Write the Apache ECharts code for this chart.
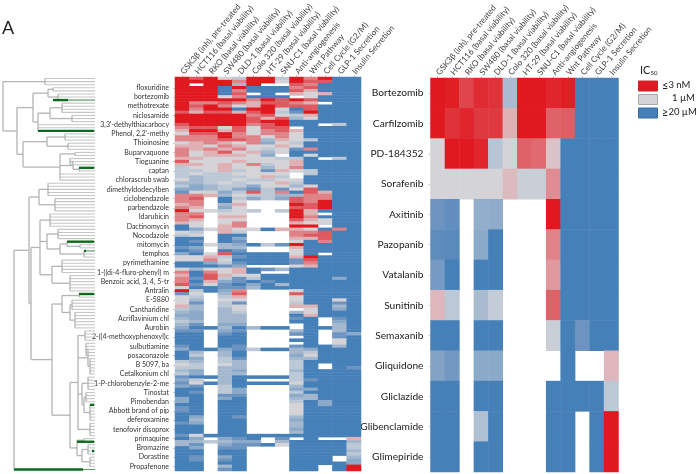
<!DOCTYPE html>
<html><head><meta charset="utf-8">
<script src="https://cdn.jsdelivr.net/npm/echarts@6/dist/echarts.min.js"></script>
<style>html,body{margin:0;padding:0;background:#fff}#c{width:698px;height:474px}</style>
</head><body><div id="c"></div>
<script>
const assayLabels = ['GSK3β (inh), pre-treated','HCT116 (basal viability)','RKO (basal viability)','SW480 (basal viability)','DLD-1 (basal viability)','Colo 320 (basal viability)','HT-29 (basal viability)','SNU-C1 (basal viability)','Anti-angiogenesis','Wnt Pathway','Cell Cycle (G2/M)','GLP-1 Secretion','Insulin Secretion'];
const drugLabels = ['floxuridine','bortezomib','methotrexate','niclosamide',"3,3'-dethylthiacarbocy","Phenol, 2,2'-methy",'Thioinosine','Buparvaquone','Tioguanine','captan','chlorascrub swab','dimethyldodecylben','ciclobendazole','parbendazole','Idarubicin','Dactinomycin','Nocodazole','mitomycin','temphos','pyrimethamine','1-((di-4-fluro-phenyl) m','Benzoic acid, 3, 4, 5-tr','Antralin','E-5880','Cantharidine','Acriflavinium chl','Aurobin','2-((4-methoxyphenoxyl)c','sulbutiamine','posaconazole','B 5097, ba','Cetalkonium chl','1-P-chlorobenzyle-2-me','Tinostat','Pimobendan','Abbott brand of pip','deferoxamine','tenofovir disoprox','primaquine','Bromazine','Dorastine','Propafenone'];
const screenRows = [
'9895499497900','9999799598800','9.9939..87000','9990900078000','9990700086000','99908.0.65600','99957000.5000','9999979898000',
'9778768876.00','9897569888000','9799099508000','8688689419000','9999978546000','9999986835000','9999989900000','8999978900.40',
'78858588.0000','6996857860000','5889757750000','7779775750000','7778873654000','5676572540000','6657655650000','7676754517000',
'7568563500000','7566652.05000','6655555440.40','8555655560000','6656574560000','4556553570000','4456451654000','45445555.4000',
'43444564.0000','5344544550000','3345455640000','4234425535000','2234214158000','1552484708600','7763544337700','78.0424287700',
'77.05...87900','67.36...98900','76.25...88900','955454.496000','77.55...96.00','78.66...97000','76.55...86500','65.57...65500',
'05.67...99.00','0256550665070','54.64...77800','45.00...78800','00.02...66800','01.01...50700','0053204190000','12.33...60000',
'01.01...50000','2058000050.00','5564100069000','5575000018000','0024100017000','00012...56000','5355601300000','707560..00000',
'6086550000000','7184140000020','7062101000000','8151020300000','5001130000000','94027...50000','15.38...80000','54.46...50000',
'53.55...50050','51.41...40010','63.45...66030','43.35....5020','32.34...35000','22.33...06000','32.33...10.10','43.33...00.20',
'31.22....0.30','20030300.0030','11.21...30.30','00.10...10.12','00.00....0.10','00.00...00.50','00.00....0.50','10.01...10030',
'2002140032000','03.30...34000','04.30...25000','02.41...33000','43.43...40000','54.53...40.00','44.33...40.01','32.32...30000',
'42.33...40000','1003000040000','24.30...41000','1503000050000','21.40...30000','00.42...22000','01.42...40000','00.11...23000',
'20.20...33000','20.00...40200','00.00...50200','10.00...50000','10.00...50000','00.00...50000','02.01...30000','03.00...20000',
'12.00...30000','00.00...30000','00.00...20000','00.00...30000','1500000000000','02.210.1.0..6','334322.300003','31.2110500004',
'02.11...00004','00.00...00003','00.00...00004','01.20...000.3','01.10...000.2','00.00...00002','00.30...00.09','00.10...00.09'];
const cancerDrugs = ['Bortezomib','Carfilzomib','PD-184352','Sorafenib','Axitinib','Pazopanib','Vatalanib','Sunitinib','Semaxanib','Gliquidone','Gliclazide','Glibenclamide','Glimepiride'];
const N = null;
const cancerRows = [
[9,8.9,8.3,8.7,8.6,3.2,9,9,8.8,8.9,0,0,0],
[9,8.6,8.8,8.5,8.5,6,9,9,7.8,7.9,0,0,0],
[5,9,9,8.8,3.8,5,7.8,7.6,5.5,0,0,0,0],
[5,5,5,5,5,5.7,4.5,4.5,6.8,0,0,0,0],
[1,.7,N,2.3,2.2,N,N,N,9,0,0,0,0],
[.6,.5,N,2,0,N,N,N,7,0,0,0,0],
[1.3,0,N,0,0,N,N,N,6.5,0,0,0,0],
[5.8,4,N,3.2,4.3,N,N,N,7.8,0,0,0,0],
[0,0,N,0,0,N,N,N,4.5,0,1,0,0],
[1.7,1.2,N,2,2,N,N,N,N,0,N,N,5.8],
[0,0,N,0,0,N,N,N,0,0,0,0,4],
[0,0,N,3.5,0,N,N,N,0,0,N,0,9],
[0,0,N,0,0,N,N,N,0,0,N,0,9]];
const palette = ['#4680b8','#6d94c0','#8ba9c9','#a3b8cf','#bdc8d6','#d4d4d8','#dfb0b4','#e08389','#de5a60','#e0181f'];
// dendrogram: [mergeDistance, ...children], a number child = that many leaves
const topClade = [3,[45,3],[17,
  [33,[48,[53,2],[58,3]],[38,[50,[62,4],[72,3]],3]],
  [23,[47,[65,3],[68,3]],[60,[75,2],[73,[70,3],[79,2]],3]]]];
const lowerClade = [14,[29,[39,[48,5],[55,5]],[31,
  [40,[50,5],[47,[58,4],[60,[67,1,[80,2]],[84,3]]],[52,[62,5],[70,6]]],
  [52,[62,[79,2],[70,[72,4],[75,6]]],[70,
    [78,[85,4],[88,[86,5],[90,6]],[82,[88,5],[84,[86,4],[90,6]]],[90,5]],
    [77,[84,2],[82,[88,4],[90,4]]]]]]],1];
// green highlighted leaves: [row, from, to]
const greenLeaves = [[7,53,68],[17,38,94],[29,79,94],[53,67,94],[56,84,86],[70,79,94],[106,90,94],[118,77,94],[121,92,94],[127,14,83]];
const leafEnd = 95, rowCount = screenRows.length;

const segs = [];
let cursor = 0;
function walk(n){
  const ys = [], h = n[0];
  n.slice(1).forEach(c => {
    if (typeof c === 'number') {
      for (let i=0;i<c;i++){ const y = cursor+.5; cursor++; ys.push(y); segs.push([h,y,leafEnd,y,0]); }
    } else {
      const y = walk(c); ys.push(y); segs.push([h,y,c[0],y,1]);
    }
  });
  const a = Math.min(...ys), b = Math.max(...ys);
  segs.push([h,a,h,b,1]);
  return (a+b)/2;
}
walk(topClade); walk(lowerClade);
greenLeaves.forEach(g => {
  segs.push([g[1],g[0]+.5,g[2],g[0]+.5,2]);
  if (g[2] < leafEnd) segs.push([g[2],g[0]+.5,leafEnd,g[0]+.5,3]);
});

const screenData = [];
screenRows.forEach((s,r)=>{ for(let c=0;c<13;c++){ const ch=s[c]; if(ch!=='.'&&ch!==undefined) screenData.push([c,r,+ch]); }});
const cancerData = [];
cancerRows.forEach((row,r)=>row.forEach((v,c)=>{ if(v!==N) cancerData.push([c,r,v]); }));
const rowCats = screenRows.map((_,i)=> (i>=3 && (i-3)%3===0) ? (drugLabels[(i-3)/3]||'') : '');

const F = 'Lato';
const xAxisBase = gi => ({type:'category',gridIndex:gi,position:'top',data:assayLabels,axisLine:{show:false},
  axisTick:{show:true,alignWithLabel:true,length:2,lineStyle:{color:'#ccc'}},
  axisLabel:{rotate:-50,interval:0,fontFamily:F,fontSize:8.3,color:'#444',margin:4},splitLine:{show:false}});
const chart = echarts.init(document.getElementById('c'),null,{renderer:'canvas'});
chart.setOption({
  animation:false,backgroundColor:'#fff',
  grid:[{left:0,width:95,top:77,height:394},{left:175,width:186,top:77,height:394},{left:430.5,width:188,top:78,height:394}],
  xAxis:[{type:'value',gridIndex:0,min:0,max:95,show:false},xAxisBase(1),xAxisBase(2)],
  yAxis:[{type:'value',gridIndex:0,min:0,max:rowCount,inverse:true,show:false},
    {type:'category',gridIndex:1,inverse:true,data:rowCats,axisLine:{show:false},
     axisTick:{show:true,length:2,alignWithLabel:true,lineStyle:{color:'#ccc'},interval:(i,v)=>v!==''},
     axisLabel:{interval:0,fontFamily:F,fontSize:7,color:'#333',margin:6}},
    {type:'category',gridIndex:2,inverse:true,data:cancerDrugs,axisLine:{show:false},
     axisTick:{show:true,length:2,alignWithLabel:true,lineStyle:{color:'#ccc'}},
     axisLabel:{interval:0,fontFamily:F,fontSize:10.2,color:'#222',margin:7}}],
  visualMap:{show:false,type:'continuous',seriesIndex:[1,2],min:0,max:9,inRange:{color:palette}},
  series:[
    {type:'custom',xAxisIndex:0,yAxisIndex:0,data:segs,clip:false,silent:true,encode:{x:[0,2],y:[1,3]},
     renderItem:(p,api)=>{
       const a=api.coord([api.value(0),api.value(1)]),b=api.coord([api.value(2),api.value(3)]),k=api.value(4);
       const st=[{stroke:'#c6c6c6',lineWidth:1.1},{stroke:'#b4b4b4',lineWidth:1.3},{stroke:'#0b6b1c',lineWidth:2.4},{stroke:'#3a9a48',lineWidth:.8}][k];
       return {type:'line',shape:{x1:a[0],y1:a[1],x2:b[0],y2:b[1]},style:st};
     }},
    {type:'heatmap',xAxisIndex:1,yAxisIndex:1,data:screenData,progressive:0,itemStyle:{borderWidth:0}},
    {type:'heatmap',xAxisIndex:2,yAxisIndex:2,data:cancerData,progressive:0,itemStyle:{borderWidth:0}}
  ],
  graphic:[
    {type:'text',left:2,top:19,style:{text:'A',font:'18px '+F,fill:'#222'}},
    {type:'text',left:640,top:65,style:{text:'{a|IC}{b|50}',rich:{a:{font:'11px '+F,fill:'#222'},b:{font:'6px '+F,fill:'#222',verticalAlign:'bottom',padding:[6,0,0,0]}}}},
    ...[[81,palette[9],'#c8282c','≤','3 nM',662],[94.5,palette[5],'#a8a8a8','','1 µM',672],[108,palette[0],'#3a6a9a','≥','20 µM',662]].flatMap(l=>[
      {type:'rect',shape:{x:638.5,y:l[0],width:19,height:10},style:{fill:l[1],stroke:l[2],lineWidth:1}},
      {type:'text',left:l[5],top:l[0]-1.5,style:{text:(l[3]?`{s|${l[3]}}`:'')+`{t|${l[4]}}`,rich:{s:{font:'11px '+F,fill:'#222'},t:{font:'9.5px '+F,fill:'#222'}}}}
    ])
  ]
});
</script></body></html>
